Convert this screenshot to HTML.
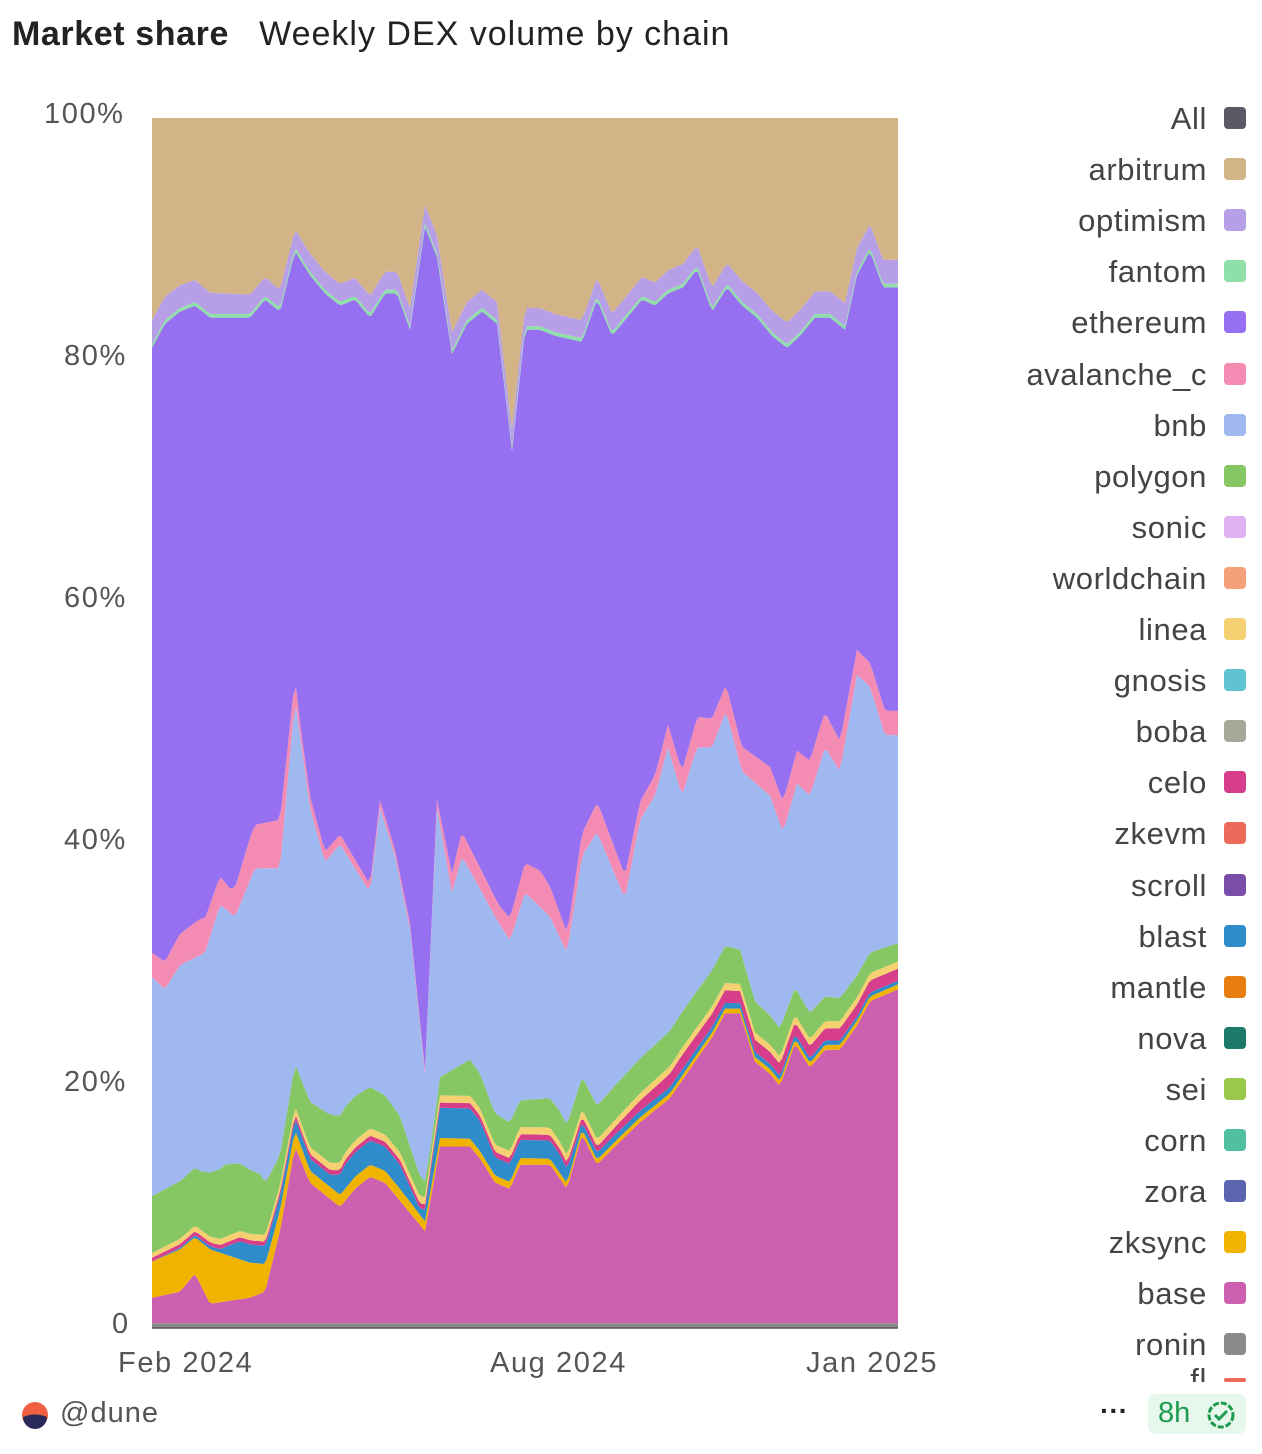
<!DOCTYPE html>
<html><head><meta charset="utf-8"><style>
body{margin:0;width:1262px;height:1454px;background:#fff;font-family:"Liberation Sans",sans-serif;overflow:hidden;position:relative}
.t{position:absolute;white-space:nowrap}
.lg{position:absolute;right:55px;font-size:31px;letter-spacing:0.6px;color:#444;text-align:right;white-space:nowrap}
.sq{position:absolute;left:1224px;width:22px;height:22px;border-radius:4px}
.ax{position:absolute;font-size:29px;letter-spacing:1.6px;color:#555;white-space:nowrap}
</style></head><body>
<div class="t" style="left:12px;top:15px;font-size:34px;letter-spacing:0.6px;color:#222"><b>Market share</b>&nbsp;&nbsp; <span style="letter-spacing:1px">Weekly DEX volume by chain</span></div>
<svg id="c" width="1262" height="1454" style="position:absolute;left:0;top:0"></svg>
<div class="ax" style="left:44px;top:98px">100%</div>
<div class="ax" style="left:64px;top:340px">80%</div>
<div class="ax" style="left:64px;top:582px">60%</div>
<div class="ax" style="left:64px;top:824px">40%</div>
<div class="ax" style="left:64px;top:1066px">20%</div>
<div class="ax" style="left:112px;top:1308px">0</div>
<div class="ax" style="left:118px;top:1347px">Feb 2024</div>
<div class="ax" style="left:490px;top:1347px">Aug 2024</div>
<div class="ax" style="left:806px;top:1347px">Jan 2025</div>
<div id="leg"></div>
<svg width="30" height="30" style="position:absolute;left:20px;top:1400px"><circle cx="15" cy="15" r="13" fill="#f06040"/><path d="M3 17 A12 12 0 0 0 27 17 Q15 12 3 17Z" fill="#2a2a5a"/></svg>
<div class="t" style="left:60px;top:1397px;font-size:29px;letter-spacing:1px;color:#555">@dune</div>
<div class="t" style="left:1100px;top:1395px;font-size:28px;color:#222;font-weight:bold">···</div>
<div style="position:absolute;left:1148px;top:1394px;width:98px;height:40px;background:#e6f7ec;border-radius:8px"></div>
<div class="t" style="left:1158px;top:1397px;font-size:29px;color:#1e9b50">8h</div>
<svg width="30" height="30" style="position:absolute;left:1206px;top:1400px"><circle cx="15" cy="15" r="12" fill="none" stroke="#1e9b50" stroke-width="3" stroke-dasharray="6 2"/><path d="M9 15 l4 4 l8 -8" fill="none" stroke="#1e9b50" stroke-width="3"/></svg>
<script>
const L=[["All","#5a5a66"],["arbitrum","#d3b487"],["optimism","#b79fe8"],["fantom","#8ee0a8"],["ethereum","#9670f0"],["avalanche_c","#f48bb2"],["bnb","#a0b8f0"],["polygon","#86c764"],["sonic","#e0b0f0"],["worldchain","#f4a078"],["linea","#f5d070"],["gnosis","#60c4d0"],["boba","#a8a89a"],["celo","#d63e8c"],["zkevm","#ec6a5a"],["scroll","#7a4ea8"],["blast","#2f8ccb"],["mantle","#e87d10"],["nova","#1d7a6a"],["sei","#9ac84a"],["corn","#50c0a0"],["zora","#5c64b0"],["zksync","#f0b400"],["base","#cc5fb0"],["ronin","#8a8a8a"]];
let h="";L.forEach((l,i)=>{let y=118+i*51.1;h+=`<div class="lg" style="top:${y-17}px">${l[0]}</div><div class="sq" style="top:${y-11}px;background:${l[1]}"></div>`});
h+=`<div class="sq" style="top:1378px;height:4px;background:#ec6a5a"></div><div class="lg" style="top:1362px;height:20px;overflow:hidden">fl</div>`;
document.getElementById("leg").innerHTML=h;
const X0=152,X1=898,Y0=1328,Y1=118;
const xs=[];for(let x=X0;x<=X1;x+=3)xs.push(x);if(xs[xs.length-1]!=X1)xs.push(X1);
function I(p){return xs.map(x=>{if(x<=p[0][0])return p[0][1];for(let i=1;i<p.length;i++)if(x<=p[i][0]){let a=p[i-1],b=p[i];return a[1]+(b[1]-a[1])*(x-a[0])/(b[0]-a[0])}return p[p.length-1][1]})}
const base=I([[152,2.5],[180,3],[195,4.5],[210,2],[250,2.5],[265,3],[280,8],[295,15],[310,12],[340,10],[355,11.5],[370,12.5],[385,12],[410,9.5],[425,8],[440,15],[470,15],[480,14],[495,12],[510,11.5],[520,13.5],[550,13.5],[567,11.5],[582,16],[597,13.5],[615,15],[640,17],[670,19],[695,22],[712,24],[725,26],[740,26],[755,22],[770,21],[780,20],[795,23.5],[810,21.5],[825,23],[840,23],[857,25],[870,27],[898,28]]);
const zk=I([[152,3],[180,3.5],[195,3],[210,4.5],[260,2.5],[270,2],[290,1.5],[310,1],[400,1],[440,0.7],[600,0.4],[898,0.4]]);
const bl=I([[152,0],[220,0.3],[240,1.5],[265,1.5],[285,1],[330,1],[345,2],[400,2],[420,0.5],[440,2.5],[480,2.5],[495,1.5],[560,1.5],[580,0.6],[898,0.3]]);
const ce=I([[152,0.3],[600,0.5],[680,1.2],[740,1],[898,1]]);
const li=I([[152,0.4],[300,0.6],[898,0.6]]);
const po=I([[152,4.7],[200,4.8],[225,6],[260,5],[280,2.5],[295,3.5],[330,4],[400,3],[430,1],[470,3],[520,2.2],[600,2.8],[700,3],[730,3],[760,2.5],[898,1.5]]);
const bnb=I([[152,29],[165,28],[180,30],[205,31],[220,35],[235,34],[255,38],[280,38],[295,52],[310,43],[325,38.5],[340,40],[355,38],[370,36],[380,43],[395,39],[410,33],[425,21],[437,43],[452,36],[462,39],[482,36],[495,34],[510,32],[525,36],[550,34],[567,31],[582,39],[597,41],[625,35.5],[640,42],[655,44],[668,48],[682,44],[697,48],[712,48],[726,51],[742,46],[770,44],[783,41],[797,45],[810,44],[825,48],[840,46],[857,54],[870,53],[885,49],[898,49]]);
const av=I([[152,2],[200,3],[230,2],[250,3.5],[280,4],[300,1],[400,0.5],[430,0.3],[460,2],[500,1.5],[540,3],[570,1.5],[600,2.5],[640,1.5],[680,2],[700,2.5],[740,2],[780,2.5],[820,3],[860,2],[898,2]]);
const eth=I([[152,81],[165,83],[180,84],[195,84.5],[210,83.5],[250,83.5],[265,85],[280,84],[295,89],[310,87],[325,85.5],[340,84.5],[355,85],[370,83.5],[385,85.5],[397,85.5],[410,82.5],[425,91],[437,88.5],[452,80.5],[467,83],[482,84],[497,83],[512,72.5],[525,82.5],[540,82.5],[555,82],[582,81.5],[597,85],[612,82],[627,83.5],[642,85],[655,84.5],[668,85.5],[683,86],[697,87.5],[712,84],[727,86],[742,84.5],[757,83.5],[772,82],[787,81],[800,82],[815,83.5],[830,83.5],[845,82.5],[857,87],[870,89],[883,86],[898,86]]);
const op=I([[152,2],[200,1.8],[280,1.5],[295,1.5],[420,1.5],[512,1.5],[540,1.5],[600,1.5],[898,2]]);
const n=xs.length,Z=xs.map(()=>0);
const B=[Z,xs.map(()=>0.4)];
const b1=base;B.push(b1);
const b2=b1.map((v,i)=>v+zk[i]);B.push(b2);
const b3=b2.map((v,i)=>v+bl[i]);B.push(b3);
const b4=b3.map((v,i)=>v+ce[i]);B.push(b4);
const b5=b4.map((v,i)=>v+li[i]);B.push(b5);
const b6=b5.map((v,i)=>Math.min(v+po[i],Math.max(v,bnb[i])));B.push(b6);
const b7=bnb.map((v,i)=>Math.max(v,b6[i]));B.push(b7);
const b8=b7.map((v,i)=>v+av[i]);B.push(b8);
const b9=eth.map((v,i)=>Math.max(v,b8[i]));B.push(b9);
const b10=b9.map(v=>v+0.3);B.push(b10);
const b11=b10.map((v,i)=>Math.min(100,v+op[i]));B.push(b11);
B.push(xs.map(()=>100));
const C=["#8a8a8a","#cc5fb0","#f0b400","#2f8ccb","#d63e8c","#f5d070","#86c764","#a0b8f0","#f48bb2","#9670f0","#8ee0a8","#b79fe8","#d3b487"];
const Y=p=>Y0-(Y0-Y1)*p/100;
let s="";
for(let k=0;k<C.length;k++){let lo=B[k],hi=B[k+1],d="M";for(let i=0;i<n;i++)d+=xs[i]+","+Y(hi[i]).toFixed(1)+" L";for(let i=n-1;i>=0;i--)d+=xs[i]+","+Y(lo[i]).toFixed(1)+(i?" L":"");s+=`<path d="${d}Z" fill="${C[k]}"/>`}
s+=`<line x1="${X0}" y1="${Y0}" x2="${X1}" y2="${Y0}" stroke="#555" stroke-width="1.5"/>`;
document.getElementById("c").innerHTML=s;
</script>
</body></html>
